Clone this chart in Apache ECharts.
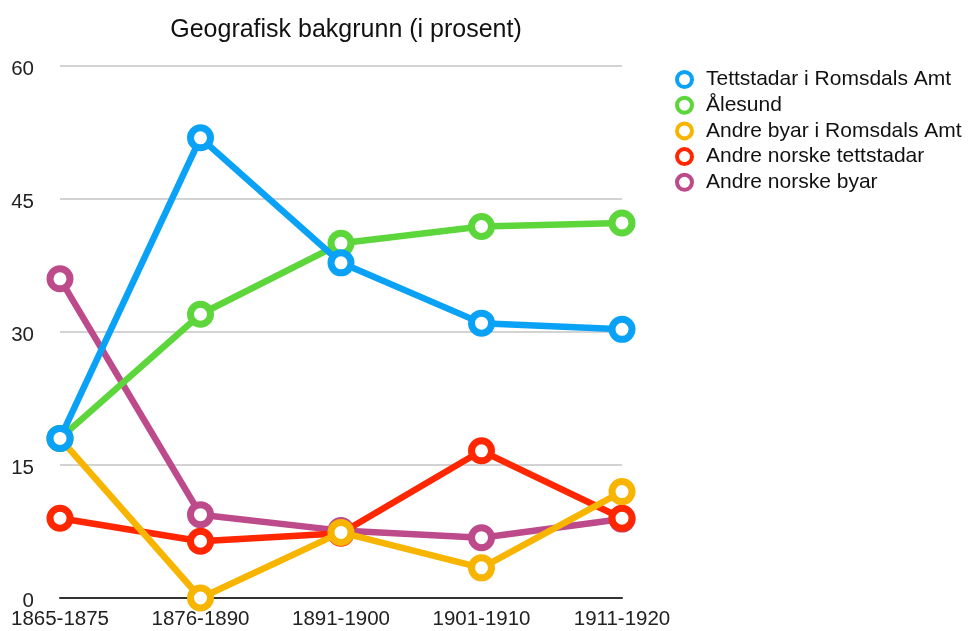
<!DOCTYPE html>
<html>
<head>
<meta charset="utf-8">
<script src="https://cdn.jsdelivr.net/npm/echarts@6/dist/echarts.min.js"></script>
<style>html,body{margin:0;padding:0;background:#fff}#c{width:968px;height:631px}</style>
</head>
<body>
<div id="c"></div>
<script>
const categories = ['1865-1875', '1876-1890', '1891-1900', '1901-1910', '1911-1920'];
const yTicks = [0, 15, 30, 45, 60];
const tettstadarRomsdal = [18, 51.9, 37.8, 31.0, 30.3];
const alesund = [18, 32.0, 40.0, 41.9, 42.3];
const andreByarRomsdal = [18, 0, 7.4, 3.4, 12.0];
const andreNorskeTettstadar = [9.0, 6.4, 7.3, 16.6, 9.0];
const andreNorskeByar = [36.0, 9.4, 7.6, 6.8, 8.9];
const seriesNames = ['Tettstadar i Romsdals Amt', 'Ålesund', 'Andre byar i Romsdals Amt', 'Andre norske tettstadar', 'Andre norske byar'];
const seriesData = [tettstadarRomsdal, alesund, andreByarRomsdal, andreNorskeTettstadar, andreNorskeByar];
const colors = ['#0aa2f6', '#5cd63a', '#f7b500', '#ff2600', '#bd4a8a'];
const FONT = 'Liberation Sans, Arial, Helvetica, sans-serif';

const chart = echarts.init(document.getElementById('c'));
const series = seriesNames.map((n, i) => ({
  name: n,
  type: 'line',
  data: seriesData[i],
  color: colors[i],
  z: 10 - i,
  symbol: 'circle',
  symbolSize: 20,
  showSymbol: true,
  lineStyle: { width: 6.5, color: colors[i] },
  itemStyle: { color: '#fff', borderColor: colors[i], borderWidth: 7 },
  emphasis: { disabled: true },
  animation: false
}));
chart.setOption({
  animation: false,
  title: {
    text: 'Geografisk bakgrunn (i prosent)',
    left: 341, top: 13, textAlign: 'center',
    textStyle: { fontFamily: FONT, fontSize: 25, lineHeight: 25, fontWeight: 'normal', color: '#111' }
  },
  legend: {
    orient: 'vertical', left: 670, top: 64,
    data: seriesNames,
    icon: 'circle', itemWidth: 15, itemHeight: 15, itemGap: 4.7,
    itemStyle: { color: '#fff', borderWidth: 4 },
    textStyle: { fontFamily: FONT, fontSize: 21, lineHeight: 21, color: '#111', padding: [0, 0, 0, 9] }
  },
  grid: { left: 60, right: 346, top: 66, bottom: 33, containLabel: false },
  xAxis: {
    type: 'category', data: categories, boundaryGap: false,
    axisLine: { lineStyle: { color: '#333', width: 2 } },
    axisTick: { show: false },
    axisLabel: { fontFamily: FONT, fontSize: 20.5, color: '#222', margin: 11 }
  },
  yAxis: {
    type: 'value', min: yTicks[0], max: yTicks[yTicks.length - 1], interval: yTicks[1] - yTicks[0],
    axisLine: { show: false }, axisTick: { show: false },
    splitLine: { lineStyle: { color: '#c4c4c4', width: 1.5 } },
    axisLabel: { fontFamily: FONT, fontSize: 20.5, color: '#222', margin: 26, verticalAlign: 'top', lineHeight: 6 }
  },
  series: series
});
</script>
</body>
</html>
